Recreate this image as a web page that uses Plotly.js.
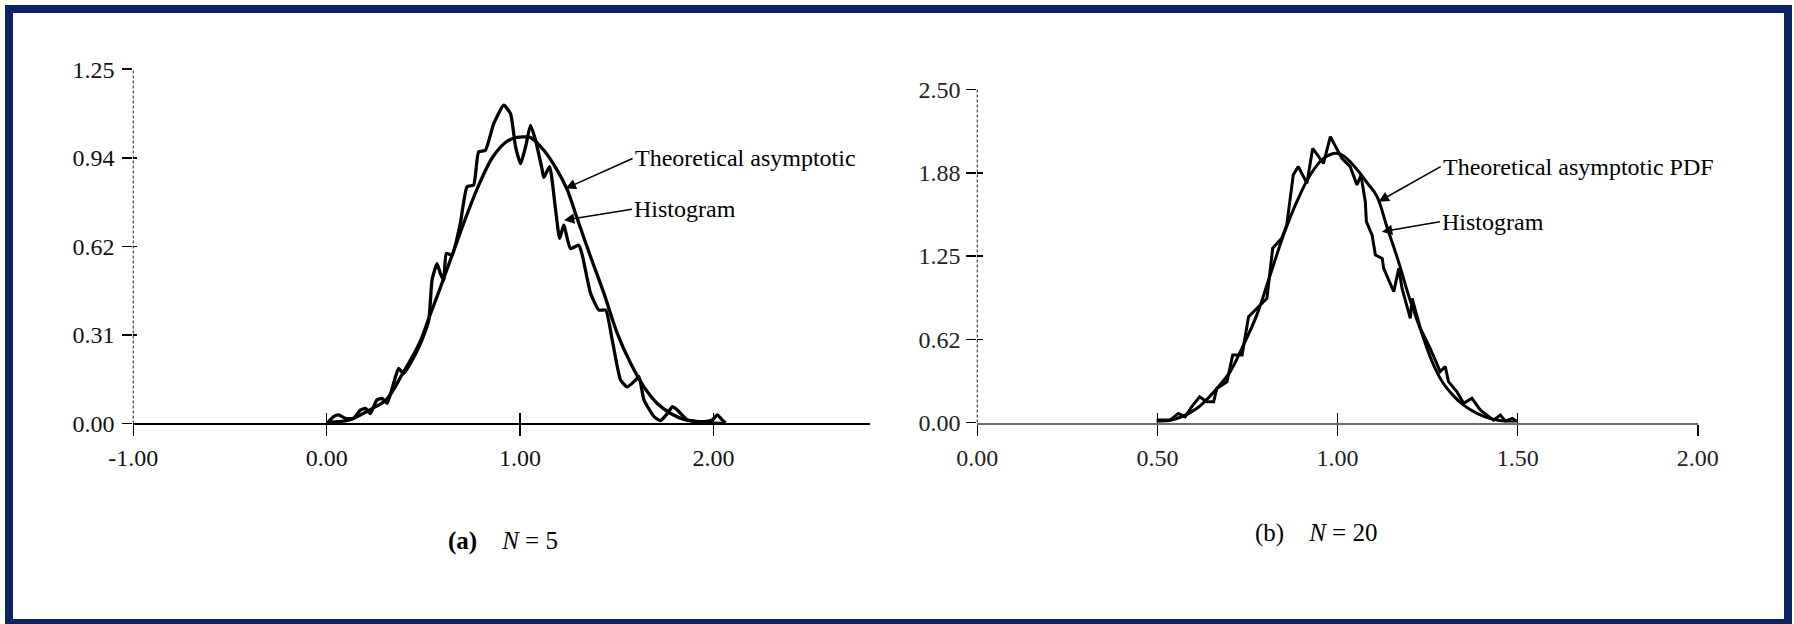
<!DOCTYPE html>
<html>
<head>
<meta charset="utf-8">
<script src="https://cdn.plot.ly/plotly-3.0.1.min.js"></script>
<style>
  html, body { margin: 0; padding: 0; background: #ffffff; }
  #chart { width: 1794px; height: 624px; }
</style>
</head>
<body>
<div id="chart"></div>
<script>
// ---------- (a) N = 5 ----------
const theoA_x = [0.0, 0.013, 0.117, 0.22, 0.307, 0.393, 0.479, 0.531, 0.583, 0.652, 0.721, 0.790, 0.859, 0.928, 0.980, 1.031, 1.054, 1.123, 1.192, 1.244, 1.296, 1.365, 1.434, 1.503, 1.572, 1.641, 1.710, 1.779, 1.848, 1.917, 1.986, 2.05];
const theoA_y = [0.0, 0.003, 0.012, 0.047, 0.083, 0.176, 0.282, 0.376, 0.470, 0.600, 0.729, 0.846, 0.940, 0.993, 1.009, 1.011, 1.009, 0.964, 0.894, 0.825, 0.722, 0.588, 0.459, 0.318, 0.212, 0.129, 0.070, 0.035, 0.014, 0.006, 0.002, 0.0];

const histA_x = [0.002, 0.036, 0.062, 0.096, 0.139, 0.174, 0.200, 0.226, 0.260, 0.286, 0.312, 0.346, 0.372, 0.398, 0.433, 0.485, 0.528, 0.545, 0.571, 0.588, 0.605, 0.619, 0.648, 0.691, 0.726, 0.760, 0.786, 0.821, 0.864, 0.916, 0.951, 0.977, 1.003, 1.030, 1.054, 1.080, 1.113, 1.123, 1.153, 1.183, 1.205, 1.226, 1.261, 1.304, 1.322, 1.365, 1.408, 1.443, 1.477, 1.520, 1.555, 1.598, 1.615, 1.641, 1.693, 1.727, 1.762, 1.788, 1.814, 1.865, 1.951, 1.994, 2.020, 2.046, 2.063];
const histA_y = [0.0, 0.024, 0.030, 0.018, 0.018, 0.047, 0.053, 0.035, 0.083, 0.088, 0.071, 0.141, 0.194, 0.176, 0.212, 0.282, 0.364, 0.506, 0.564, 0.529, 0.506, 0.600, 0.594, 0.705, 0.835, 0.841, 0.958, 0.964, 1.058, 1.123, 1.093, 0.976, 0.917, 0.980, 1.052, 1.000, 0.900, 0.868, 0.906, 0.759, 0.653, 0.700, 0.617, 0.629, 0.594, 0.459, 0.400, 0.400, 0.294, 0.153, 0.129, 0.153, 0.165, 0.083, 0.024, 0.010, 0.035, 0.059, 0.047, 0.012, 0.006, 0.012, 0.030, 0.012, 0.002];

const xTicksA = [-1, 0, 1, 2];
const xTickTextA = ['-1.00', '0.00', '1.00', '2.00'];
const yTicksA = [0, 0.3125, 0.625, 0.9375, 1.25];
const yTickTextA = ['0.00', '0.31', '0.62', '0.94', '1.25'];

// ---------- (b) N = 20 ----------
const theoB_x = [0.498, 0.554, 0.609, 0.665, 0.702, 0.739, 0.776, 0.813, 0.850, 0.887, 0.924, 0.961, 0.998, 1.017, 1.054, 1.082, 1.109, 1.137, 1.169, 1.200, 1.230, 1.262, 1.292, 1.322, 1.350, 1.387, 1.424, 1.461, 1.494];
const theoB_y = [0.003, 0.030, 0.105, 0.256, 0.382, 0.582, 0.808, 1.107, 1.407, 1.658, 1.858, 1.983, 2.021, 2.000, 1.900, 1.800, 1.700, 1.470, 1.210, 0.930, 0.700, 0.460, 0.300, 0.200, 0.130, 0.068, 0.030, 0.010, 0.0];

const histB_x = [0.498, 0.535, 0.558, 0.577, 0.595, 0.617, 0.637, 0.656, 0.665, 0.693, 0.709, 0.735, 0.753, 0.785, 0.804, 0.820, 0.845, 0.859, 0.877, 0.891, 0.915, 0.931, 0.961, 0.980, 1.012, 1.035, 1.054, 1.065, 1.077, 1.080, 1.096, 1.105, 1.124, 1.128, 1.156, 1.170, 1.179, 1.202, 1.207, 1.230, 1.257, 1.285, 1.299, 1.308, 1.331, 1.350, 1.373, 1.396, 1.433, 1.452, 1.466, 1.485, 1.499];
const histB_y = [0.018, 0.018, 0.068, 0.043, 0.118, 0.193, 0.155, 0.155, 0.256, 0.306, 0.507, 0.507, 0.795, 0.883, 0.933, 1.308, 1.383, 1.483, 1.858, 1.921, 1.796, 2.058, 1.946, 2.146, 1.983, 1.921, 1.783, 1.858, 1.658, 1.508, 1.407, 1.257, 1.232, 1.157, 0.982, 1.157, 1.007, 0.782, 0.932, 0.707, 0.557, 0.382, 0.420, 0.307, 0.232, 0.144, 0.182, 0.094, 0.018, 0.056, 0.010, 0.030, 0.005];

const xTicksB = [0, 0.5, 1, 1.5, 2];
const xTickTextB = ['0.00', '0.50', '1.00', '1.50', '2.00'];
const yTicksB = [0, 0.625, 1.25, 1.875, 2.5];
const yTickTextB = ['0.00', '0.62', '1.25', '1.88', '2.50'];

const labelTheoA = 'Theoretical asymptotic';
const labelTheoB = 'Theoretical asymptotic PDF';
const labelHist = 'Histogram';
const captionA = '<b>(a)</b>\u00a0\u00a0\u00a0\u00a0<i>N</i>\u00a0=\u00a05';
const captionB = '(b)\u00a0\u00a0\u00a0\u00a0<i>N</i>\u00a0=\u00a020';

// ---------- layout geometry (pixels of the 1794 x 624 page) ----------
const W = 1794, H = 624;
const px = v => v / W;
const py = v => 1 - v / H;

const FONT = 'Liberation Serif, "DejaVu Serif", serif';
const tickFont = { family: FONT, size: 24, color: '#111' };

const traces = [
  { x: theoA_x, y: theoA_y, xaxis: 'x', yaxis: 'y', mode: 'lines',
    line: { color: '#000', width: 3.3, shape: 'spline', smoothing: 1 }, hoverinfo: 'skip', showlegend: false },
  { x: histA_x, y: histA_y, xaxis: 'x', yaxis: 'y', mode: 'lines',
    line: { color: '#000', width: 3.3, shape: 'spline', smoothing: 0.5 }, hoverinfo: 'skip', showlegend: false },
  { x: theoB_x, y: theoB_y, xaxis: 'x2', yaxis: 'y2', mode: 'lines',
    line: { color: '#000', width: 3, shape: 'spline', smoothing: 1 }, hoverinfo: 'skip', showlegend: false },
  { x: histB_x, y: histB_y, xaxis: 'x2', yaxis: 'y2', mode: 'lines',
    line: { color: '#000', width: 3, shape: 'linear' }, hoverinfo: 'skip', showlegend: false },
  // empty traces that carry the inner halves of the crossing tick marks
  { x: [], y: [], xaxis: 'x3', yaxis: 'y3', mode: 'lines', hoverinfo: 'skip', showlegend: false },
  { x: [], y: [], xaxis: 'x4', yaxis: 'y4', mode: 'lines', hoverinfo: 'skip', showlegend: false }
];

const baseX = {
  showgrid: false, zeroline: false, ticks: 'outside', ticklen: 11, tickwidth: 1.5, tickcolor: '#000',
  tickfont: tickFont, ticklabelstandoff: 1, fixedrange: true
};
const baseY = {
  showgrid: false, zeroline: false, showline: false, ticks: 'outside', ticklen: 10, tickwidth: 1.5, tickcolor: '#000',
  tickfont: tickFont, ticklabelstandoff: 3, fixedrange: true
};

const layout = {
  width: W, height: H, autosize: false,
  margin: { l: 0, r: 0, t: 0, b: 0, pad: 0 },
  paper_bgcolor: '#fff', plot_bgcolor: 'rgba(0,0,0,0)',
  font: { family: FONT, color: '#000' },
  xaxis: Object.assign({}, baseX, {
    domain: [px(133.3), px(870)], range: [-1, 2.81], anchor: 'y',
    tickmode: 'array', tickvals: xTicksA, ticktext: xTickTextA,
    showline: true, linecolor: '#000', linewidth: 2
  }),
  yaxis: Object.assign({}, baseY, {
    domain: [py(423.4), py(69.2)], range: [0, 1.25], anchor: 'x',
    tickmode: 'array', tickvals: yTicksA, ticktext: yTickTextA
  }),
  xaxis2: Object.assign({}, baseX, {
    domain: [px(977.3), px(1697.8)], range: [0, 2], anchor: 'y2',
    tickmode: 'array', tickvals: xTicksB, ticktext: xTickTextB,
    showline: true, linecolor: '#6a6a6a', linewidth: 2.5,
    tickfont: { family: FONT, size: 24, color: '#222' }
  }),
  yaxis2: Object.assign({}, baseY, {
    domain: [py(422.5), py(89.5)], range: [0, 2.5], anchor: 'x2',
    tickmode: 'array', tickvals: yTicksB, ticktext: yTickTextB,
    tickfont: { family: FONT, size: 24, color: '#222' }, ticklabelstandoff: 1
  }),
  // overlay axes: inner part of crossing ticks
  xaxis3: { overlaying: 'x', anchor: 'y', range: [-1, 2.81], tickmode: 'array', tickvals: xTicksA,
    ticks: 'inside', ticklen: 10, tickwidth: 1.5, tickcolor: '#000', showticklabels: false,
    showline: false, showgrid: false, zeroline: false, fixedrange: true },
  yaxis3: { overlaying: 'y', anchor: 'x', side: 'left', range: [0, 1.25], tickmode: 'array', tickvals: yTicksA,
    ticks: 'inside', ticklen: 4, tickwidth: 1.5, tickcolor: '#000', showticklabels: false,
    showline: false, showgrid: false, zeroline: false, fixedrange: true },
  xaxis4: { overlaying: 'x2', anchor: 'y2', range: [0, 2], tickmode: 'array', tickvals: xTicksB,
    ticks: 'inside', ticklen: 10, tickwidth: 1.5, tickcolor: '#000', showticklabels: false,
    showline: false, showgrid: false, zeroline: false, fixedrange: true },
  yaxis4: { overlaying: 'y2', anchor: 'x2', side: 'left', range: [0, 2.5], tickmode: 'array', tickvals: yTicksB,
    ticks: 'inside', ticklen: 6, tickwidth: 1.5, tickcolor: '#000', showticklabels: false,
    showline: false, showgrid: false, zeroline: false, fixedrange: true },
  shapes: [
    // page frame
    { type: 'rect', xref: 'paper', yref: 'paper', x0: px(9), x1: px(1788), y0: py(623), y1: py(9),
      line: { color: '#0c2461', width: 8 }, fillcolor: 'rgba(0,0,0,0)', layer: 'above' },
    // dotted vertical axis lines
    { type: 'line', xref: 'paper', yref: 'paper', x0: px(133.3), x1: px(133.3), y0: py(423.4), y1: py(69.2),
      line: { color: '#444', width: 1.2, dash: '3px,2px' }, layer: 'below' },
    { type: 'line', xref: 'paper', yref: 'paper', x0: px(977.3), x1: px(977.3), y0: py(422.5), y1: py(89.5),
      line: { color: '#444', width: 1.2, dash: '3px,2px' }, layer: 'below' }
  ],
  annotations: [
    { xref: 'x', yref: 'y', x: 1.2355, y: 0.829, ax: 67, ay: -30, text: labelTheoA,
      showarrow: true, arrowhead: 2, arrowsize: 1.3, arrowwidth: 1.6, arrowcolor: '#000',
      xanchor: 'left', yanchor: 'middle', font: { family: FONT, size: 24, color: '#000' } },
    { xref: 'x', yref: 'y', x: 1.227, y: 0.717, ax: 68, ay: -11, text: labelHist,
      showarrow: true, arrowhead: 2, arrowsize: 1.3, arrowwidth: 1.6, arrowcolor: '#000',
      xanchor: 'left', yanchor: 'middle', font: { family: FONT, size: 24, color: '#000' } },
    { xref: 'x2', yref: 'y2', x: 1.114, y: 1.658, ax: 62, ay: -35, text: labelTheoB,
      showarrow: true, arrowhead: 2, arrowsize: 1.3, arrowwidth: 1.6, arrowcolor: '#000',
      xanchor: 'left', yanchor: 'middle', font: { family: FONT, size: 24, color: '#000' } },
    { xref: 'x2', yref: 'y2', x: 1.123, y: 1.432, ax: 58, ay: -10, text: labelHist,
      showarrow: true, arrowhead: 2, arrowsize: 1.3, arrowwidth: 1.6, arrowcolor: '#000',
      xanchor: 'left', yanchor: 'middle', font: { family: FONT, size: 24, color: '#000' } },
    { xref: 'paper', yref: 'paper', x: px(503), y: py(541), text: captionA, showarrow: false,
      xanchor: 'center', yanchor: 'middle', font: { family: FONT, size: 25, color: '#000' } },
    { xref: 'paper', yref: 'paper', x: px(1316), y: py(533), text: captionB, showarrow: false,
      xanchor: 'center', yanchor: 'middle', font: { family: FONT, size: 25, color: '#000' } }
  ]
};

Plotly.newPlot('chart', traces, layout, { staticPlot: true, displayModeBar: false });
</script>
</body>
</html>
